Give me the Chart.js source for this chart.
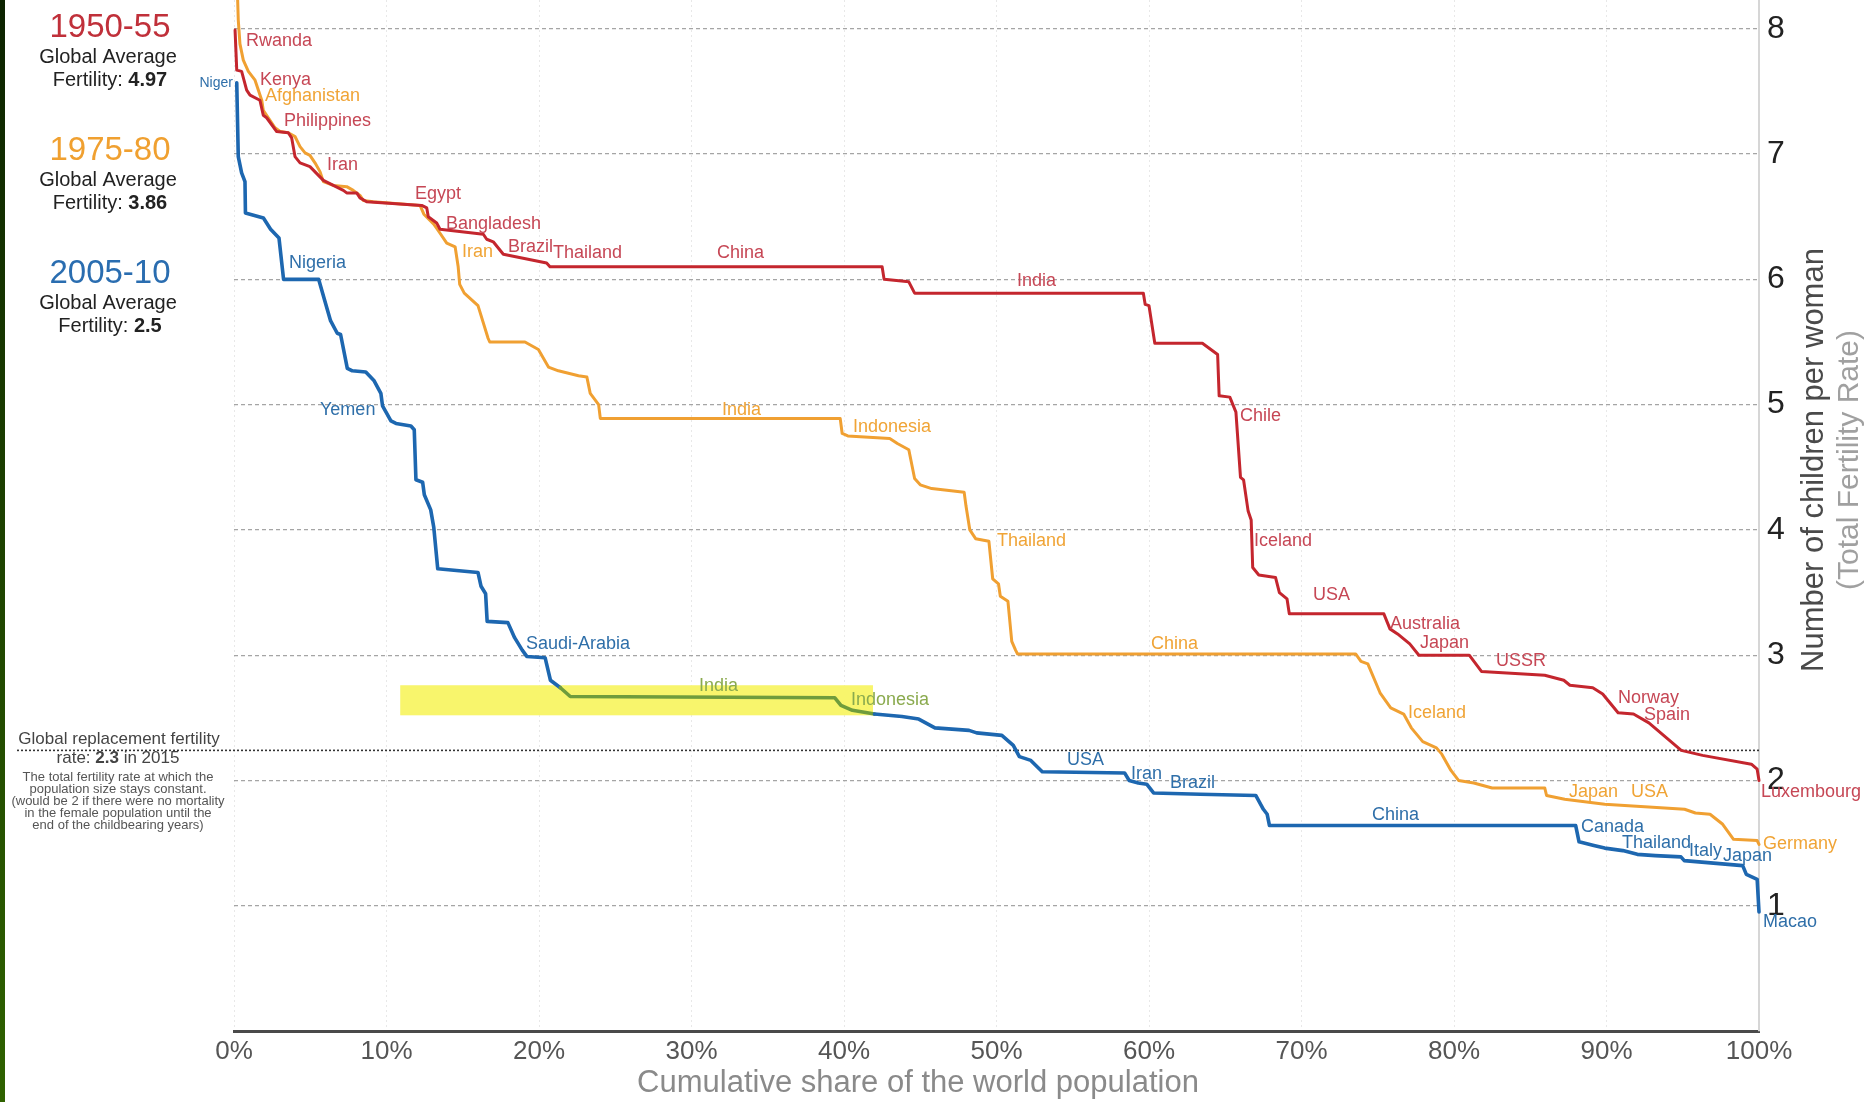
<!DOCTYPE html>
<html><head><meta charset="utf-8">
<script src="https://cdn.jsdelivr.net/npm/chart.js@4.4.1/dist/chart.umd.min.js"></script>
<style>html,body{margin:0;padding:0;background:#fff;overflow:hidden}</style>
</head><body>
<canvas id="c" width="1874" height="1102"></canvas>
<script>
const FONT = "'Liberation Sans', Arial, Helvetica, sans-serif";

// ---- data (cumulative share of world population %, total fertility rate) ----
const share1950 = [0.07,0.18,0.5,0.83,1.05,1.7,1.92,2.14,2.8,3.56,3.78,4.0,4.33,4.98,5.86,7.17,7.39,8.05,8.26,8.7,12.31,12.64,12.74,13.29,13.51,16.35,16.57,17.0,17.66,20.5,20.72,42.5,42.63,44.25,44.63,59.63,59.75,60.0,60.38,63.5,64.5,64.6,65.3,65.7,66.0,66.2,66.5,66.7,66.8,67.2,68.3,68.55,69.05,69.2,75.4,75.8,76.3,77.1,77.7,81.0,81.8,85.95,87.2,87.6,89.1,89.75,90.76,91.77,92.78,94.9,96.3,99.5,99.88,100];
const tfr1950 = [7.99,7.67,7.66,7.51,7.47,7.43,7.31,7.29,7.18,7.17,7.13,6.98,6.93,6.90,6.79,6.71,6.69,6.69,6.65,6.62,6.59,6.57,6.50,6.45,6.40,6.36,6.32,6.30,6.20,6.13,6.10,6.10,6.0,5.98,5.89,5.89,5.80,5.79,5.49,5.49,5.40,5.07,5.06,4.94,4.42,4.40,4.15,4.08,3.70,3.64,3.62,3.50,3.45,3.33,3.33,3.21,3.17,3.09,3.0,3.0,2.87,2.84,2.80,2.76,2.74,2.69,2.54,2.53,2.46,2.24,2.20,2.13,2.09,2.0];

const share1975 = [0.24,0.28,0.39,0.61,0.94,1.38,1.6,1.82,1.92,2.14,2.69,3.02,3.56,4.0,4.33,4.66,4.98,5.31,5.64,5.86,6.51,7.39,7.82,8.26,8.48,9.13,12.2,12.45,13.1,13.5,13.95,14.5,14.7,14.8,15.1,16.0,16.66,16.77,19.08,19.96,20.62,21.27,22.59,23.14,23.36,23.91,24.02,39.75,39.88,40.25,43.0,43.5,44.25,44.63,45.0,45.75,47.88,48.0,48.25,48.63,49.5,49.75,50.13,50.25,50.75,51.0,51.25,51.38,73.55,73.9,74.35,75.15,75.85,76.7,77.2,77.95,78.85,79.2,79.8,80.3,81.3,82.5,85.95,86.07,87.26,89.88,95.12,95.83,96.79,97.62,98.33,99.88,100];
const tfr1975 = [8.23,8.07,7.88,7.75,7.66,7.59,7.51,7.43,7.35,7.31,7.21,7.18,7.17,7.14,7.06,7.01,6.99,6.93,6.86,6.78,6.75,6.74,6.71,6.67,6.63,6.62,6.59,6.52,6.44,6.37,6.29,6.26,6.10,5.96,5.89,5.79,5.53,5.50,5.50,5.44,5.30,5.27,5.23,5.22,5.09,5.0,4.89,4.89,4.77,4.75,4.73,4.69,4.64,4.41,4.36,4.33,4.30,4.19,4.0,3.93,3.91,3.61,3.57,3.47,3.43,3.11,3.04,3.01,3.01,2.95,2.93,2.70,2.58,2.53,2.42,2.31,2.26,2.21,2.08,2.0,1.98,1.94,1.94,1.88,1.85,1.81,1.77,1.74,1.73,1.65,1.53,1.52,1.49];

const share2005 = [0.18,0.28,0.5,0.72,0.75,1.93,2.4,2.95,3.25,5.55,6.0,6.33,6.77,6.99,7.43,7.76,8.64,9.19,9.63,9.74,10.29,10.62,11.6,11.82,11.93,12.37,12.48,12.9,13.1,13.36,16.0,16.2,16.5,16.6,17.96,18.4,18.9,19.2,20.4,20.75,21.4,22.05,39.4,39.8,40.55,42.0,43.8,44.9,45.96,48.2,48.7,50.35,51.1,51.5,52.25,53.0,58.4,58.7,59.3,59.85,60.3,63.36,67.0,67.5,67.75,67.9,87.98,88.2,89.17,89.88,91.07,92.02,93.2,94.88,95.1,98.93,99.17,99.88,100];
const tfr2005 = [7.57,6.98,6.85,6.78,6.53,6.49,6.40,6.33,6.0,6.0,5.81,5.67,5.57,5.56,5.29,5.27,5.26,5.19,5.09,4.99,4.87,4.85,4.83,4.80,4.40,4.38,4.28,4.16,4.02,3.69,3.66,3.55,3.49,3.27,3.26,3.14,3.04,2.99,2.98,2.80,2.74,2.67,2.66,2.60,2.56,2.53,2.51,2.49,2.42,2.40,2.38,2.36,2.28,2.19,2.16,2.07,2.06,2.0,1.98,1.97,1.90,1.89,1.88,1.77,1.73,1.64,1.64,1.51,1.48,1.46,1.44,1.41,1.40,1.39,1.36,1.32,1.25,1.21,0.95];

const periods = ['1950-55','1975-80','2005-10'];
const globalAverage = ['4.97','3.86','2.5'];
const replacementRate = 2.24;          // drawn level of the replacement line
const xTicks = [0,10,20,30,40,50,60,70,80,90,100];
const yTicks = [1,2,3,4,5,6,7,8];
const highlightShare = [10.9, 41.9];   // India highlight box
const highlightTfr = [2.52, 2.76];

// country labels: [name, share, tfr]
const labels1950 = [['Rwanda',0.79,7.90],['Kenya',1.7,7.59],['Philippines',3.28,7.26],['Iran',6.1,6.91],['Egypt',11.87,6.68],['Bangladesh',13.9,6.44],['Brazil',17.97,6.26],['Thailand',20.92,6.21],['China',31.67,6.21],['India',51.34,5.99],['Chile',65.97,4.91],['Iceland',66.89,3.91],['USA',70.75,3.48],['Australia',75.8,3.25],['Japan',77.77,3.10],['USSR',82.75,2.95],['Norway',90.75,2.66],['Spain',92.46,2.52],['Luxembourg',100.13,1.91]];
const labels1975 = [['Afghanistan',2.03,7.46],['Iran',14.95,6.22],['India',32.0,4.96],['Indonesia',40.59,4.82],['Thailand',50.03,3.91],['China',60.13,3.09],['Iceland',76.98,2.54],['Japan',87.54,1.91],['USA',91.61,1.91],['Germany',100.26,1.49]];
const labels2005 = [['Nigeria',3.61,6.13],['Yemen',5.64,4.96],['Saudi-Arabia',19.15,3.09],['India',30.49,2.75],['Indonesia',40.46,2.64],['USA',54.62,2.16],['Iran',58.82,2.05],['Brazil',61.38,1.98],['China',74.62,1.72],['Canada',88.33,1.63],['Thailand',91.02,1.50],['Italy',95.41,1.44],['Japan',97.64,1.40],['Macao',100.26,0.87]];
const labelNiger = ['Niger',-0.07,7.57];

// ---- styles ----
const RED = '#c4262e', ORANGE = '#f0a032', BLUE = '#1d67b0', GREEN = '#6f9c3c';
const RED_T = '#c64755', ORANGE_T = '#f0a436', BLUE_T = '#2f6fa9', GREEN_T = '#8aaa4e';

const zip = (xs, ys) => xs.map((v, i) => ({x: v, y: ys[i]}));
const inBox = (px, py) => px >= highlightShare[0] && px <= highlightShare[1] && py >= highlightTfr[0] && py <= highlightTfr[1];

Chart.defaults.font.family = FONT;

function mixed(ctx, parts, cx, cy, size, color) {
  let total = 0;
  const ws = parts.map(([t, b]) => { ctx.font = (b ? 'bold ' : '') + size + 'px ' + FONT; const w = ctx.measureText(t).width; total += w; return w; });
  let xx = cx - total / 2;
  ctx.textAlign = 'left'; ctx.textBaseline = 'middle'; ctx.fillStyle = color;
  parts.forEach(([t, b], i) => { ctx.font = (b ? 'bold ' : '') + size + 'px ' + FONT; ctx.fillText(t, xx, cy); xx += ws[i]; });
}

const overlay = {
  id: 'overlay',
  beforeDraw(chart) {
    const ctx = chart.ctx;
    ctx.save();
    const g = ctx.createLinearGradient(0, 0, 0, chart.height);
    g.addColorStop(0, '#0c2300'); g.addColorStop(1, '#2f6200');
    ctx.fillStyle = g;
    ctx.fillRect(0, 0, 5, chart.height);
    ctx.restore();
  },
  beforeDatasetsDraw(chart) {
    const {ctx, scales: {x, y}, chartArea} = chart;
    ctx.save();
    const x0 = x.getPixelForValue(highlightShare[0]), x1 = x.getPixelForValue(highlightShare[1]);
    const y0 = y.getPixelForValue(highlightTfr[1]), y1 = y.getPixelForValue(highlightTfr[0]);
    ctx.fillStyle = '#f8f56c';
    ctx.fillRect(x0, y0, x1 - x0, y1 - y0);
    const ry = y.getPixelForValue(replacementRate);
    ctx.strokeStyle = '#333'; ctx.lineWidth = 1.6; ctx.setLineDash([2, 2]);
    ctx.beginPath(); ctx.moveTo(17, ry); ctx.lineTo(chartArea.right, ry); ctx.stroke();
    ctx.restore();
  },
  afterDraw(chart) {
    const {ctx, scales: {x, y}, chartArea} = chart;
    ctx.save();
    // country labels
    ctx.textBaseline = 'middle'; ctx.textAlign = 'left';
    ctx.font = '18px ' + FONT;
    const put = (arr, color) => arr.forEach(([t, sx, sy]) => { ctx.fillStyle = color; ctx.fillText(t, x.getPixelForValue(sx), y.getPixelForValue(sy)); });
    put(labels1950, RED_T);
    put(labels1975, ORANGE_T);
    labels2005.forEach(([t, sx, sy]) => { ctx.fillStyle = inBox(sx, sy) ? GREEN_T : BLUE_T; ctx.fillText(t, x.getPixelForValue(sx), y.getPixelForValue(sy)); });
    ctx.font = '14px ' + FONT; ctx.textAlign = 'right'; ctx.fillStyle = BLUE_T;
    ctx.fillText(labelNiger[0], x.getPixelForValue(labelNiger[1]), y.getPixelForValue(labelNiger[2]));

    // left legend panel
    const pcol = ['#c0303a', '#f0a030', '#2a6db0'];
    periods.forEach((p, i) => {
      const by = 28 + i * 123;
      ctx.textAlign = 'center'; ctx.textBaseline = 'middle';
      ctx.font = '33px ' + FONT; ctx.fillStyle = pcol[i];
      ctx.fillText(p, 110, by);
      ctx.font = '20px ' + FONT; ctx.fillStyle = '#222';
      ctx.fillText('Global Average', 108, by + 29);
      mixed(ctx, [['Fertility: ', false], [globalAverage[i], true]], 110, by + 52, 20, '#222');
    });

    // replacement text
    ctx.textAlign = 'center'; ctx.textBaseline = 'middle';
    ctx.font = '17px ' + FONT; ctx.fillStyle = '#444';
    ctx.fillText('Global replacement fertility', 119, 739);
    mixed(ctx, [['rate: ', false], ['2.3', true], [' in 2015', false]], 118, 758, 17, '#444');
    ctx.font = '13px ' + FONT; ctx.fillStyle = '#555'; ctx.textAlign = 'center';
    ['The total fertility rate at which the', 'population size stays constant.', '(would be 2 if there were no mortality', 'in the female population until the', 'end of the childbearing years)']
      .forEach((t, i) => ctx.fillText(t, 118, 777 + i * 12));

    // axis titles
    ctx.save();
    ctx.translate(chartArea.right + 55, 460);
    ctx.rotate(-Math.PI / 2);
    ctx.textAlign = 'center'; ctx.textBaseline = 'middle';
    ctx.font = '31px ' + FONT; ctx.fillStyle = '#4a4a4a';
    ctx.fillText('Number of children per woman', 0, 0);
    ctx.font = '30px ' + FONT; ctx.fillStyle = '#a0a0a0';
    ctx.fillText('(Total Fertility Rate)', 0, 36);
    ctx.restore();

    ctx.textAlign = 'center'; ctx.textBaseline = 'middle';
    ctx.font = '31px ' + FONT; ctx.fillStyle = '#8a8a8a';
    ctx.fillText('Cumulative share of the world population', chartArea.left + 684, chartArea.bottom + 52);
    ctx.restore();
  }
};

new Chart(document.getElementById('c'), {
  type: 'line',
  data: {
    datasets: [
      {label: '1950-55', data: zip(share1950, tfr1950), borderColor: RED, borderWidth: 3},
      {label: '1975-80', data: zip(share1975, tfr1975), borderColor: ORANGE, borderWidth: 3},
      {label: '2005-10', data: zip(share2005, tfr2005), borderColor: BLUE, borderWidth: 3.6,
       segment: {borderColor: c => inBox((c.p0.parsed.x + c.p1.parsed.x) / 2, (c.p0.parsed.y + c.p1.parsed.y) / 2) ? GREEN : undefined}}
    ].map(d => Object.assign({pointRadius: 0, tension: 0, fill: false, borderJoinStyle: 'round', borderCapStyle: 'round', clip: false}, d))
  },
  options: {
    responsive: false, animation: false, devicePixelRatio: 1,
    layout: {padding: {left: 234, right: 0, top: 0, bottom: 0}},
    plugins: {legend: {display: false}, tooltip: {enabled: false}},
    scales: {
      x: {
        type: 'linear', position: 'bottom', min: 0, max: 100,
        afterBuildTicks: s => { s.ticks = xTicks.map(v => ({value: v})); },
        afterFit: s => { s.height = 71; s.paddingLeft = 0; s.paddingRight = 0; },
        ticks: {autoSkip: false, maxRotation: 0, padding: 5, color: '#555', font: {size: 26}, callback: v => v + '%'},
        grid: {color: 'rgba(0,0,0,0.09)', lineWidth: 1, drawTicks: false},
        border: {display: true, color: '#4a4a4a', width: 3, dash: [2, 3]}
      },
      y: {
        type: 'linear', position: 'right', min: 0, max: 8.23,
        afterBuildTicks: s => { s.ticks = yTicks.map(v => ({value: v})); },
        afterFit: s => { s.width = 115; s.paddingTop = 0; s.paddingBottom = 0; },
        ticks: {padding: 8, color: '#222', font: {size: 32}},
        grid: {color: '#a5a5a5', lineWidth: 1.2, drawTicks: false},
        border: {display: true, color: '#d6d6d6', width: 2, dash: [4, 3]}
      }
    }
  },
  plugins: [overlay]
});
</script>
</body></html>
